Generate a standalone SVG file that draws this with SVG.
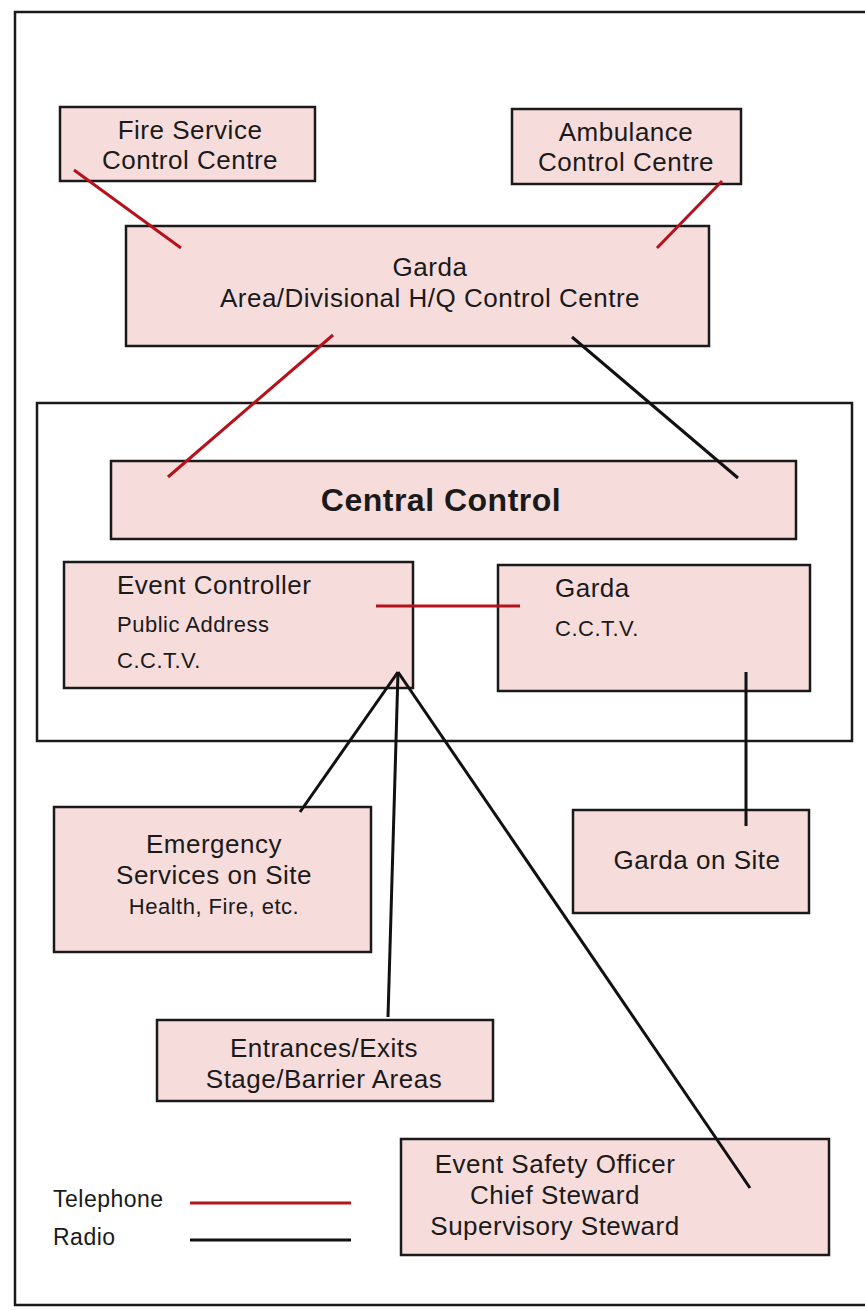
<svg xmlns="http://www.w3.org/2000/svg" width="865" height="1311" viewBox="0 0 865 1311">
<style>
.box{fill:#f7dcdc;stroke:#1a1a1a;stroke-width:2.5}
.frame{fill:none;stroke:#1a1a1a;stroke-width:2.5}
.t{font-family:"Liberation Sans",Arial,sans-serif;font-size:26px;letter-spacing:0.5px;fill:#1a1a1a}
.s{font-size:22px}
.l{font-size:23px}
.c{text-anchor:middle}
.b{font-weight:bold;font-size:32px}
.tel{stroke:#b5121b;stroke-width:3;fill:none}
.rad{stroke:#111;stroke-width:3;fill:none}
</style>
<rect width="865" height="1311" fill="#fff"/>
<rect class="frame" x="15" y="12" width="860" height="1293"/>
<g id="central-area"><rect class="frame" x="37" y="403" width="815" height="338"/></g>
<g id="fire"><rect class="box" x="60" y="107" width="255" height="74"/>
<text class="t c" x="190" y="139">Fire Service</text><text class="t c" x="190" y="169">Control Centre</text></g>
<g id="ambulance"><rect class="box" x="512" y="109" width="229" height="75"/>
<text class="t c" x="626" y="141">Ambulance</text><text class="t c" x="626" y="171">Control Centre</text></g>
<g id="garda-hq"><rect class="box" x="126" y="226" width="583" height="120"/>
<text class="t c" x="430" y="276">Garda</text><text class="t c" x="430" y="307">Area/Divisional H/Q Control Centre</text></g>
<g id="central"><rect class="box" x="111" y="461" width="685" height="78"/>
<text class="t c b" x="441" y="511">Central Control</text></g>
<g id="event-controller"><rect class="box" x="64" y="562" width="349" height="126"/>
<text class="t" x="117" y="594">Event Controller</text><text class="t s" x="117" y="632">Public Address</text><text class="t s" x="117" y="668">C.C.T.V.</text></g>
<g id="garda-cctv"><rect class="box" x="498" y="565" width="312" height="126"/>
<text class="t" x="555" y="597">Garda</text><text class="t s" x="555" y="636">C.C.T.V.</text></g>
<g id="emergency"><rect class="box" x="54" y="807" width="317" height="145"/>
<text class="t c" x="214" y="853">Emergency</text><text class="t c" x="214" y="884">Services on Site</text><text class="t c s" x="214" y="914">Health, Fire, etc.</text></g>
<g id="garda-site"><rect class="box" x="573" y="810" width="236" height="103"/>
<text class="t c" x="697" y="869">Garda on Site</text></g>
<g id="entrances"><rect class="box" x="157" y="1020" width="336" height="81"/>
<text class="t c" x="324" y="1057">Entrances/Exits</text><text class="t c" x="324" y="1088">Stage/Barrier Areas</text></g>
<g id="safety"><rect class="box" x="401" y="1139" width="428" height="116"/>
<text class="t c" x="555" y="1173">Event Safety Officer</text><text class="t c" x="555" y="1204">Chief Steward</text><text class="t c" x="555" y="1235">Supervisory Steward</text></g>
<g id="connectors">
<line class="tel" x1="74" y1="170" x2="181" y2="248"/>
<line class="tel" x1="722" y1="181" x2="657" y2="248"/>
<line class="tel" x1="333" y1="335" x2="168" y2="477"/>
<line class="rad" x1="572" y1="337" x2="738" y2="478"/>
<line class="tel" x1="376" y1="606" x2="520" y2="606"/>
<line class="rad" x1="398" y1="672" x2="300" y2="812"/>
<line class="rad" x1="398" y1="672" x2="388" y2="1017"/>
<line class="rad" x1="398" y1="672" x2="750" y2="1188"/>
<line class="rad" x1="746" y1="672" x2="746" y2="826"/>
</g>
<g id="legend">
<text class="t l" x="53" y="1207">Telephone</text>
<line class="tel" x1="190" y1="1203" x2="351" y2="1203"/>
<text class="t l" x="53" y="1245">Radio</text>
<line class="rad" x1="190" y1="1240" x2="351" y2="1240"/>
</g>
</svg>
